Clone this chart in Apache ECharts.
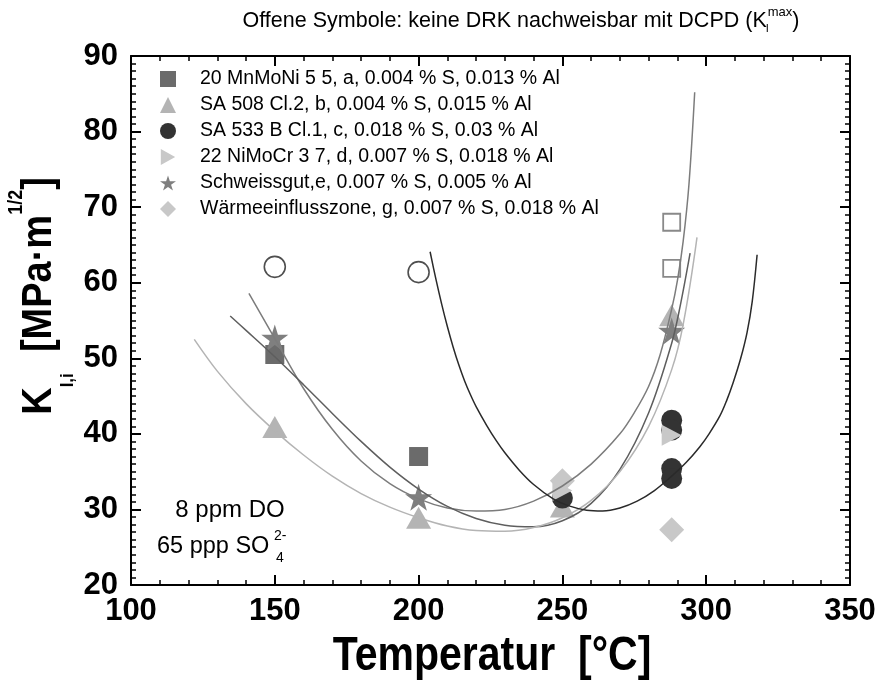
<!DOCTYPE html>
<html>
<head>
<meta charset="utf-8">
<script src="https://cdn.jsdelivr.net/npm/echarts@6/dist/echarts.min.js"></script>
<style>
html,body{margin:0;padding:0;background:#fff;}
#chart{width:882px;height:680px;}
</style>
</head>
<body>
<div id="chart"></div>
<script>
// ---------- data ----------
const xTicks = [100, 350, 50];           // min, max, interval
const yTicks = [20, 90, 10];
const legendNames = [
  '20 MnMoNi 5 5, a, 0.004 % S, 0.013 % Al',
  'SA 508 Cl.2, b, 0.004 % S, 0.015 % Al',
  'SA 533 B Cl.1, c, 0.018 % S, 0.03 % Al',
  '22 NiMoCr 3 7, d, 0.007 % S, 0.018 % Al',
  'Schweissgut,e, 0.007 % S, 0.005 % Al',
  'Wärmeeinflusszone, g, 0.007 % S, 0.018 % Al'
];
const ptsA = [[150, 50.5], [200, 37.0]];
const ptsB = [[150, 40.9], [200, 28.9], [250, 30.4], [288, 55.7]];
const ptsC = [[250, 31.5], [288, 41.8], [288, 40.5], [288, 35.4], [288, 34.1]];
const ptsD = [[250, 32.5], [288, 39.8]];
const ptsE = [[150, 52.7], [200, 31.6], [288, 53.6]];
const ptsG = [[250, 33.8], [288, 27.3]];
const openSquares = [[288, 68.0], [288, 61.9]];
const openCircles = [[150, 62.1], [200, 61.4]];

const fitSteep = [[141,58.6],[150,52.6],[160,46.0],[170,40.6],[180,36.4],[190,33.4],[200,31.4],[210,30.2],[220,29.8],[230,30.0],[240,31.1],[250,33.1],[260,36.0],[270,40.0],[275,42.8],[280,46.3],[284,50.5],[288,56.5],[290,60.3],[292,65.5],[294,73.0],[296,85.2]];
const fitDark = [[134.5,55.6],[140,53.7],[150,50.2],[160,46.5],[170,42.7],[180,39.0],[190,35.6],[200,32.7],[210,30.4],[220,28.8],[230,27.9],[240,27.7],[250,28.5],[260,30.8],[270,35.3],[280,42.8],[288,52.0],[291,57.0],[294.4,63.9]];
const fitLight = [[122,52.5],[130,48.3],[140,44.0],[150,40.4],[160,37.2],[170,34.4],[180,32.1],[190,30.3],[200,28.9],[210,27.8],[220,27.2],[230,27.1],[240,27.6],[250,28.9],[260,31.2],[270,35.0],[280,41.0],[288,48.5],[292,54.5],[296.8,66.0]];
const fitC = [[204,64.1],[206,60.5],[208,57.2],[210,54.2],[212,51.5],[214,49.1],[216,47.0],[218,45.2],[220,43.6],[223.7,41.1],[227,39.1],[230,37.5],[235,35.2],[240,33.3],[246.8,31.4],[252,30.5],[258.4,29.9],[264,29.8],[270,30.2],[276,31.1],[282,32.5],[288,34.4],[293,36.2],[297.8,38.3],[301,40.0],[304.8,42.4],[307,44.3],[309.3,46.7],[312,50.0],[314.2,53.4],[316,57.5],[317.7,63.7]];

// ---------- styles ----------
const FONT = 'Liberation Sans, Arial, sans-serif';
const STAR = 'path://M50,0 L61.2,34.5 L97.6,34.5 L68.2,55.9 L79.4,90.5 L50,69.1 L20.6,90.5 L31.8,55.9 L2.4,34.5 L38.8,34.5 Z';
const RTRI = 'path://M0,0 L90,50 L0,100 Z';
const colA = '#6b6b6b', colB = '#b4b4b4', colC = '#333333', colD = '#c8c8c8', colE = '#7f7f7f', colG = '#c8c8c8';

function axisCommon(show) {
  return {
    axisLine: { onZero: false, lineStyle: { color: '#000', width: 2 } },
    axisTick: { show: true, inside: true, length: 10, lineStyle: { color: '#000', width: 2 } },
    minorTick: { show: true, length: 5, lineStyle: { color: '#000', width: 1.5 } },
    splitLine: { show: false },
    axisLabel: { show: show, color: '#000', fontSize: 31, fontWeight: 'bold', fontFamily: FONT }
  };
}

const xa = axisCommon(true); xa.axisLabel.margin = 11; xa.minorTick.splitNumber = 5;
const xb = axisCommon(false); xb.minorTick.splitNumber = 5;
const ya = axisCommon(true); ya.axisLabel.margin = 13; ya.minorTick.splitNumber = 10;
const yb = axisCommon(false); yb.minorTick.splitNumber = 10;

function scatter(name, data, symbol, size, color, extra) {
  return Object.assign({
    name: name, type: 'scatter', data: data, symbol: symbol, symbolSize: size,
    itemStyle: { color: color, opacity: 1 }, z: 2, silent: true
  }, extra || {});
}
function fit(data, color, width) {
  return {
    type: 'line', data: data, smooth: 0.35, showSymbol: false, symbol: 'none',
    lineStyle: { color: color, width: width }, z: 4, silent: true
  };
}

const option = {
  animation: false,
  backgroundColor: '#ffffff',
  grid: { left: 131, right: 32, top: 56, bottom: 95, containLabel: false },
  xAxis: [
    Object.assign({ type: 'value', position: 'bottom', min: xTicks[0], max: xTicks[1], interval: xTicks[2] }, xa),
    Object.assign({ type: 'value', position: 'top', min: xTicks[0], max: xTicks[1], interval: xTicks[2] }, xb)
  ],
  yAxis: [
    Object.assign({ type: 'value', position: 'left', min: yTicks[0], max: yTicks[1], interval: yTicks[2] }, ya),
    Object.assign({ type: 'value', position: 'right', min: yTicks[0], max: yTicks[1], interval: yTicks[2] }, yb)
  ],
  legend: {
    data: [
      { name: legendNames[0], icon: 'rect' },
      { name: legendNames[1], icon: 'triangle' },
      { name: legendNames[2], icon: 'circle' },
      { name: legendNames[3], icon: RTRI },
      { name: legendNames[4], icon: STAR },
      { name: legendNames[5], icon: 'diamond' }
    ],
    orient: 'vertical', left: 155, top: 64,
    itemWidth: 16, itemHeight: 16, itemGap: 6,
    textStyle: { fontSize: 19.5, color: '#000', fontFamily: FONT, padding: [0, 0, 0, 19] },
    selectedMode: false
  },
  series: [
    fit(fitSteep, '#7c7c7c', 1.5),
    fit(fitDark, '#5e5e5e', 1.5),
    fit(fitLight, '#b4b4b4', 1.5),
    fit(fitC, '#2a2a2a', 1.5),
    scatter('open-sq', openSquares, 'rect', 17, 'rgba(255,255,255,0)', { itemStyle: { color: 'rgba(255,255,255,0)', borderColor: colA, borderWidth: 1.8 } }),
    scatter('open-ci', openCircles, 'circle', 21, 'rgba(255,255,255,0)', { itemStyle: { color: 'rgba(255,255,255,0)', borderColor: '#222', borderWidth: 1.6 } }),
    scatter(legendNames[0], ptsA, 'rect', 19, colA),
    scatter(legendNames[1], ptsB, 'triangle', [25, 22], colB),
    scatter(legendNames[2], ptsC, 'circle', 21, colC),
    scatter(legendNames[3], ptsD, 'triangle', [21, 20], colD, { symbolRotate: -90 }),
    scatter(legendNames[4], ptsE, STAR, 27, colE),
    scatter(legendNames[5], ptsG, 'diamond', 25, colG)
  ],
  graphic: [
    {
      type: 'text', x: 521, y: 21, silent: true,
      style: {
        text: 'Offene Symbole: keine DRK nachweisbar mit DCPD (K{s|I}{p|max})',
        fontSize: 21.5, fontFamily: FONT, fill: '#000', lineHeight: 40,
        align: 'center', verticalAlign: 'middle',
        rich: {
          s: { fontSize: 11, fontFamily: FONT, fill: '#000', padding: [15, 0, 0, 0], width: 1 },
          p: { fontSize: 13, fontFamily: FONT, fill: '#000', padding: [0, 0, 17, 0] }
        }
      }
    },
    {
      type: 'text', x: 39, y: 296, rotation: Math.PI / 2, scaleY: 1.1, silent: true,
      style: {
        text: 'K{sub|I,i}  [MPa·m{sup|1/2}]',
        fontSize: 38, fontWeight: 'bold', fontFamily: FONT, fill: '#000', lineHeight: 80,
        align: 'center', verticalAlign: 'middle',
        rich: {
          sub: { fontSize: 17, fontWeight: 'bold', fontFamily: FONT, fill: '#000', padding: [52, 0, 0, 0] },
          sup: { fontSize: 18, fontWeight: 'bold', fontFamily: FONT, fill: '#000', padding: [0, 0, 40, 0] }
        }
      }
    },
    {
      type: 'text', x: 492, y: 657, scaleY: 1.15, silent: true,
      style: { text: 'Temperatur  [°C]', fontSize: 41, fontWeight: 'bold', fontFamily: FONT, fill: '#000', align: 'center', verticalAlign: 'middle' }
    },
    {
      type: 'text', x: 230, y: 510, silent: true,
      style: { text: '8 ppm DO', fontSize: 24, fontFamily: FONT, fill: '#000', align: 'center', verticalAlign: 'middle' }
    },
    {
      type: 'text', x: 157, y: 547, silent: true,
      style: { text: '65 ppp SO', fontSize: 23.5, fontFamily: FONT, fill: '#000', align: 'left', verticalAlign: 'middle' }
    },
    {
      type: 'text', x: 276, y: 558, silent: true,
      style: { text: '4', fontSize: 14, fontFamily: FONT, fill: '#000', align: 'left', verticalAlign: 'middle' }
    },
    {
      type: 'text', x: 274, y: 536, silent: true,
      style: { text: '2-', fontSize: 14, fontFamily: FONT, fill: '#000', align: 'left', verticalAlign: 'middle' }
    }
  ]
};

const chart = echarts.init(document.getElementById('chart'), null, { renderer: 'canvas' });
chart.setOption(option);
</script>
</body>
</html>
